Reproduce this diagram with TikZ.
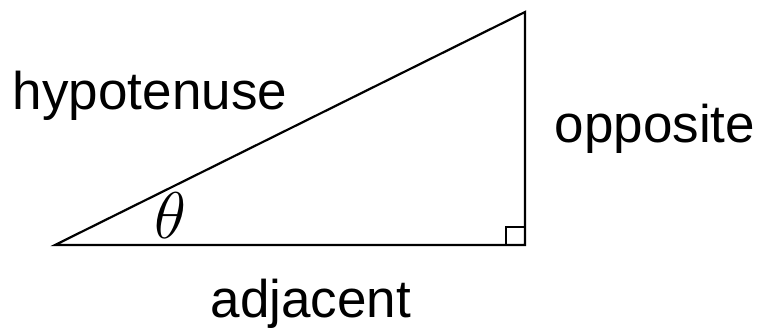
\RequirePackage{fix-cm}
\documentclass[tikz,border=0pt]{standalone}
\usepackage{fontspec}
\setmainfont{Liberation Sans}
\usepackage{tikz}
\usetikzlibrary{positioning}

\begin{document}
\begin{tikzpicture}[x=1pt, y=-1pt, line width=2.2pt, line join=miter,
  side/.style={inner sep=0pt, anchor=base, font=\fontsize{53}{60}\selectfont},
  angle/.style={inner sep=0pt, anchor=base, font=\fontsize{66}{70}\selectfont}]
\useasboundingbox (0,0) rectangle (764,328);
% corners of the triangle
\coordinate (A) at (55,245);
\coordinate (B) at (525,245);
\coordinate (C) at (525,12);
\draw (A) -- (B) -- (C) -- cycle;
% right angle mark
\draw[line width=1.8pt] (B) ++(-19,0) -- ++(0,-18) -- ++(19,0);
% labels of the sides and the angle
\node[side] (hyp) at (150,110) {hypotenuse};
\node[side] (opp) at (655,143) {opposite};
\node[side] (adj) at (311,318) {adjacent};
\node[angle] (theta) at (170,239) {$\theta$};
\end{tikzpicture}
\end{document}
